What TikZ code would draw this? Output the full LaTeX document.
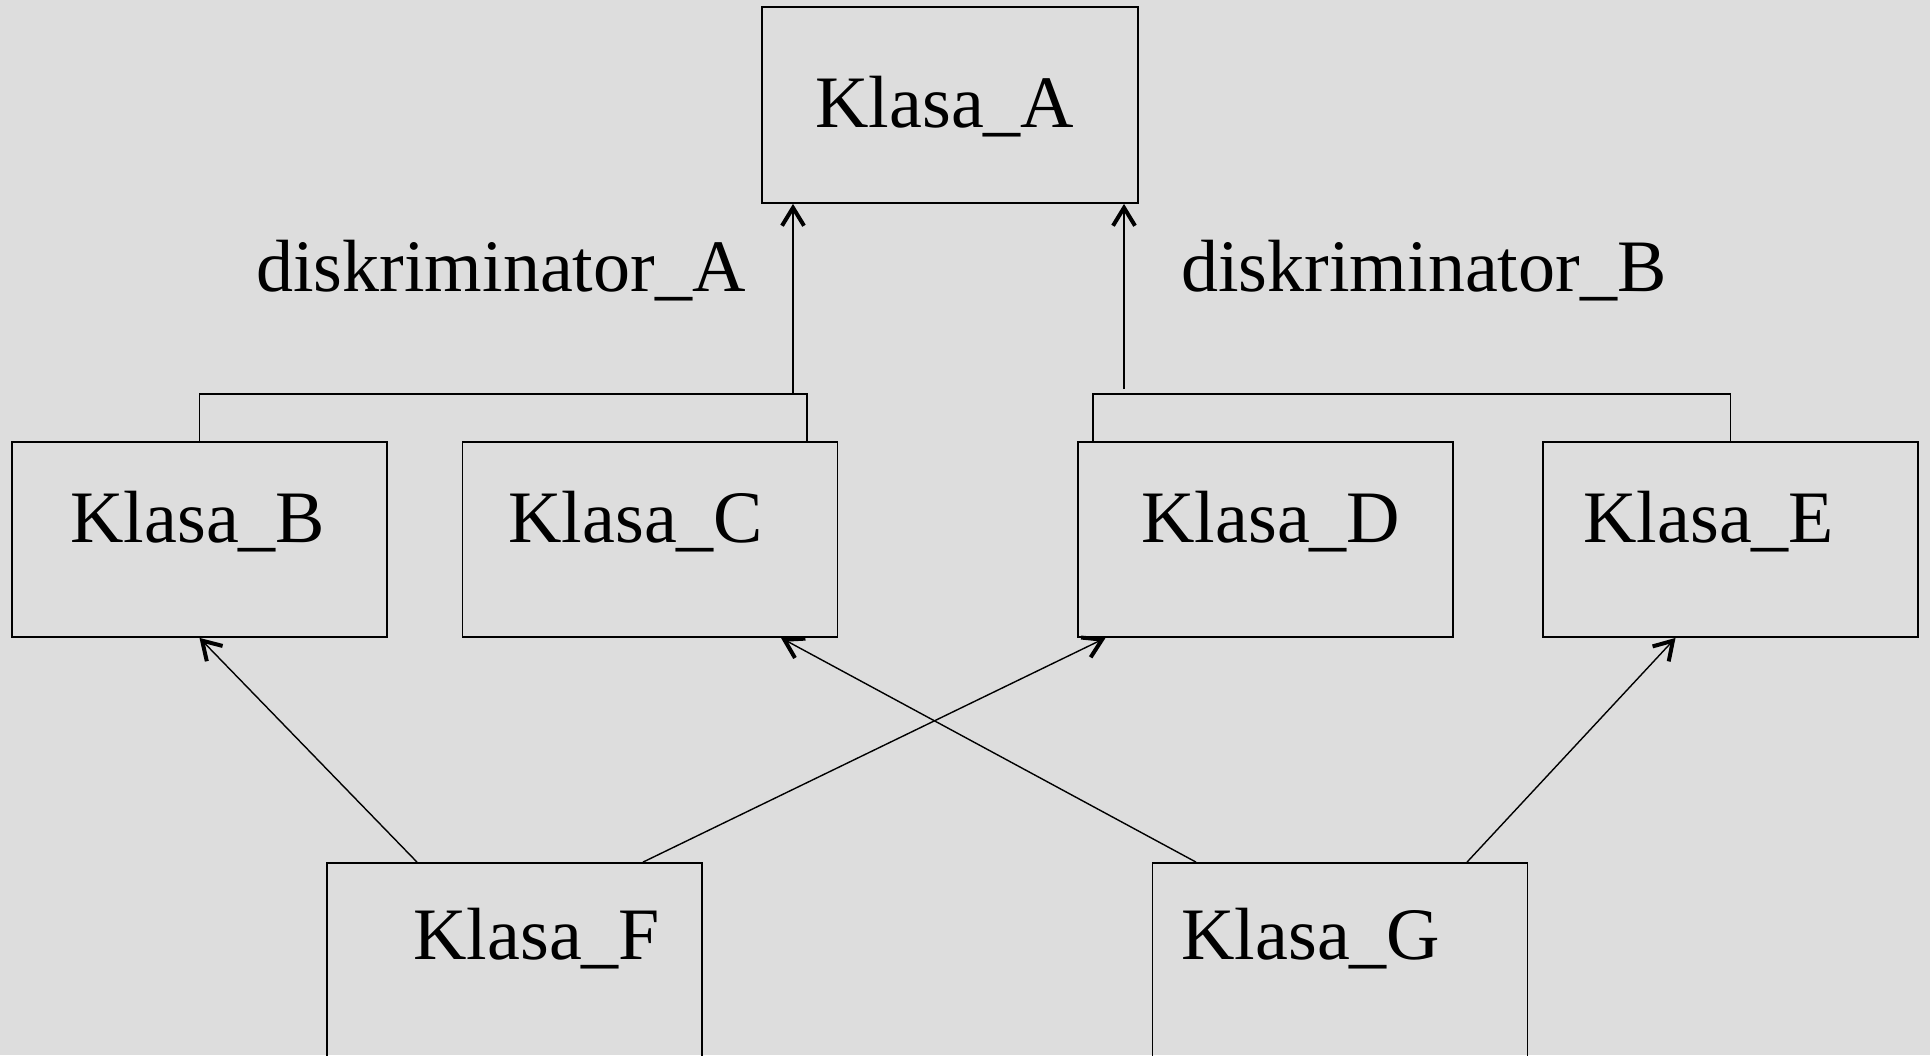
\documentclass[tikz,border=0pt]{standalone}
\usepackage{fontspec}
\setmainfont{Liberation Serif}
\usetikzlibrary{arrows.meta,calc}
\definecolor{bggray}{RGB}{221,221,221}
\tikzset{
  box/.style={draw=black, line width=0.9pt, rectangle, inner sep=0pt, minimum width=187.5pt, minimum height=97.5pt},
  lbl/.style={anchor=base west, inner sep=0pt, font=\fontsize{37}{44}\selectfont},
  conn/.style={draw=black, line width=0.7pt},
  gen/.style={conn, -{Straight Barb[length=9pt, width=11pt, line width=2pt]}}
}
\begin{document}
\begin{tikzpicture}[x=0.5pt, y=-0.5pt]
\useasboundingbox (0,0) rectangle (1930,1055);
\fill[bggray] (0,0) rectangle (1930,1055);
\clip (0,0) rectangle (1930,1055);
% boxes
\node[box, minimum width=188pt, minimum height=98pt] (A) at (950,105) {};
\node[box] (B) at (199.5,539.5) {};
\node[box] (C) at (650,539.5) {};
\node[box] (D) at (1265.5,539.5) {};
\node[box] (E) at (1730.5,539.5) {};
\node[box] (F) at (514.5,960.5) {};
\node[box] (G) at (1340,960.5) {};
% texts
\node[lbl] (tA) at (815,127) {Klasa\_A};
\node[lbl] (tB) at (70,542) {Klasa\_B};
\node[lbl] (tC) at (508,542) {Klasa\_C};
\node[lbl] (tD) at (1141,542) {Klasa\_D};
\node[lbl] (tE) at (1583,542) {Klasa\_E};
\node[lbl] (tF) at (413,959) {Klasa\_F};
\node[lbl] (tG) at (1181,959) {Klasa\_G};
\node[lbl] (dA) at (256,291) {diskriminator\_A};
\node[lbl] (dB) at (1181,291) {diskriminator\_B};
% discriminator groups
\coordinate (jA) at (793,394);
\coordinate (jB) at (1124,389);
\draw[conn] (B.north) |- (jA) -| ($(C.north)+(157,0)$);
\draw[conn] ($(D.north)+(-172.5,0)$) |- (1730.5,394) -- (E.north);
\draw[gen] (jA) -- (jA |- A.south);
\draw[gen] (jB) -- (jB |- A.south);
% generalisations
\draw[gen] ($(F.north)+(-97.5,0)$) -- (B.south);
\draw[gen] ($(F.north)+(128.5,0)$) -- ($(D.south)+(-160,0)$);
\draw[gen] ($(G.north)+(-144,0)$) -- ($(C.south)+(131,0)$);
\draw[gen] ($(G.north)+(127,0)$) -- ($(E.south)+(-55,0)$);
\end{tikzpicture}
\end{document}
